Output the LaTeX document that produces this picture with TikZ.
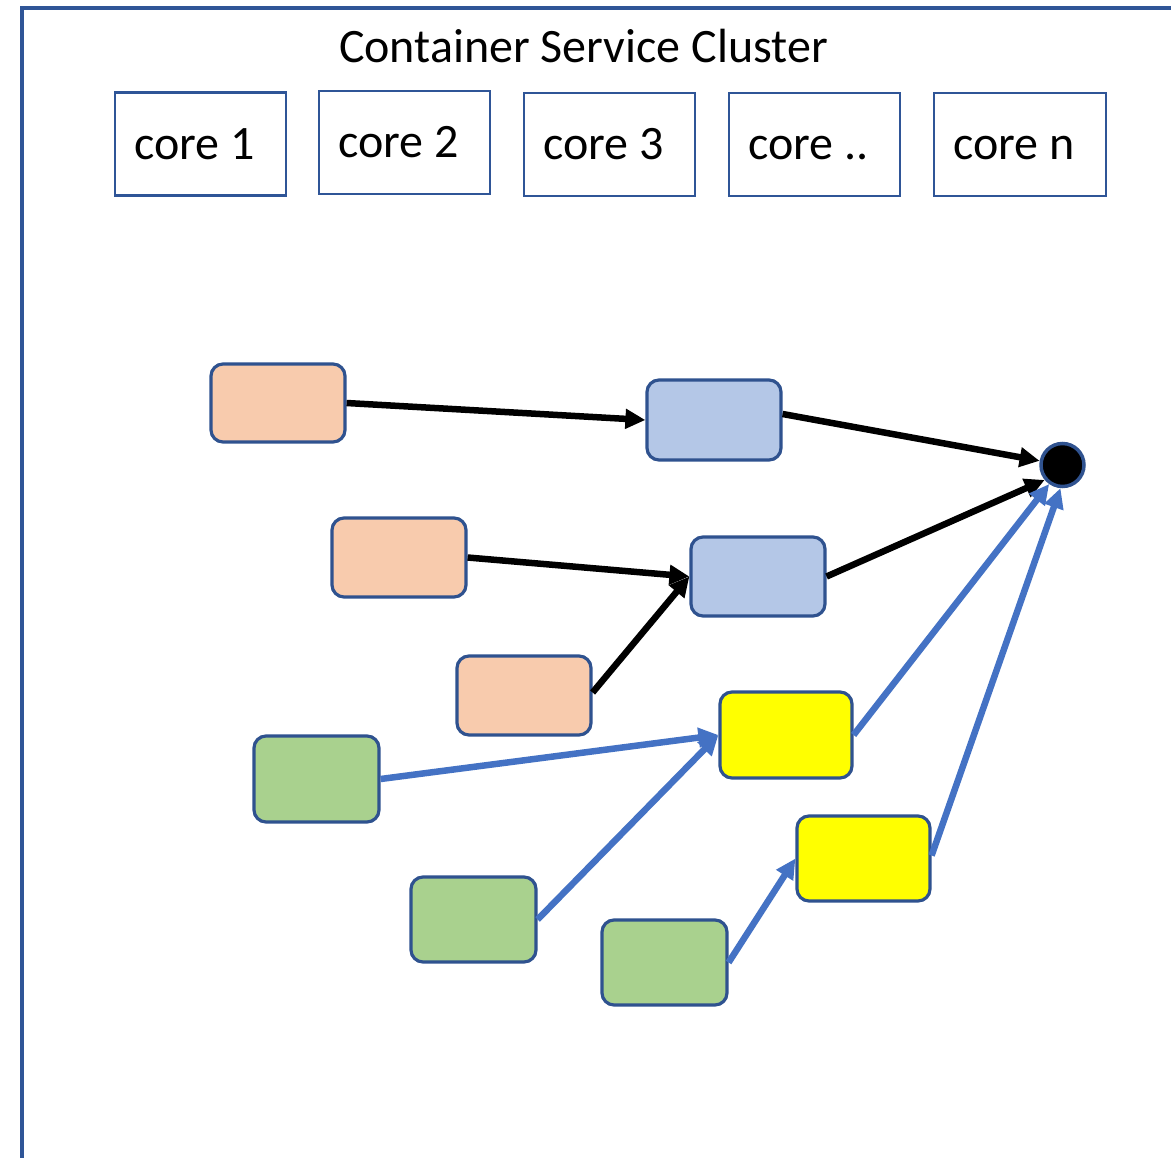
\documentclass[tikz,border=0pt]{standalone}
\usepackage{fontspec}
\setmainfont{Carlito}
\usetikzlibrary{arrows.meta}

\definecolor{edgeblue}{HTML}{2F5597}
\definecolor{boxline}{HTML}{2F528F}
\definecolor{peach}{HTML}{F8CBAD}
\definecolor{paleblue}{HTML}{B4C7E7}
\definecolor{leaf}{HTML}{A9D18E}
\definecolor{brightyellow}{HTML}{FFFF00}
\definecolor{flowblue}{HTML}{4472C4}

\tikzset{
  corebox/.style={draw=edgeblue, line width=2.8pt, rectangle, inner sep=0pt,
    text height=31pt, text depth=0pt, minimum width=171pt,
    minimum height=103pt, font=\fontsize{48}{56}\selectfont},
  taskbox/.style={draw=boxline, line width=3.2pt, rectangle, rounded corners=12pt, inner sep=0pt},
  prepbox/.style={taskbox, fill=peach, minimum width=134pt, minimum height=79pt},
  mergebox/.style={taskbox, fill=paleblue, minimum width=134pt, minimum height=79pt},
  loadbox/.style={taskbox, fill=leaf, minimum width=125pt, minimum height=85pt},
  joinbox/.style={taskbox, fill=brightyellow, minimum width=133pt, minimum height=85pt},
  sinkdot/.style={circle, fill=black, draw=boxline, line width=3.5pt, minimum size=43pt, inner sep=0pt},
  blackflow/.style={draw=black, line width=6.5pt, -{Triangle[length=20pt, width=19pt]}},
  blueflow/.style={draw=flowblue, line width=6.5pt, -{Triangle[length=20pt, width=19pt]}},
}

\begin{document}
\begin{tikzpicture}[x=1pt, y=-1pt]
  \useasboundingbox (0,0) rectangle (1171,1158);
  \fill[white] (0,0) rectangle (1171,1158);

  % cluster frame (open to the right and bottom)
  \coordinate (frameTR) at (1175,8);
  \coordinate (frameTL) at (22,8);
  \coordinate (frameBL) at (22,1162);
  \draw[edgeblue, line width=3.2pt] (frameTR) -- (frameTL) -- (frameBL);

  \node[anchor=base, font=\fontsize{48}{56}\selectfont] (title) at (583.5,63) {Container Service Cluster};

  % cores (labels sit a little left of centre)
  \node[corebox] (core1) at (200.5,144) {core 1\kern12pt};
  \node[corebox] (core2) at (404.5,142.5) {core 2\kern12pt};
  \node[corebox] (core3) at (609.5,144.5) {core 3\kern12pt};
  \node[corebox] (core4) at (814.5,144.5) {core ..\kern12pt};
  \node[corebox, minimum width=172pt] (coren) at (1020,144.5) {core n\kern12pt};

  % tasks
  \node[prepbox, minimum height=78pt] (o1) at (278,403) {};
  \node[mergebox, minimum height=80pt] (b1) at (714,420) {};
  \node[prepbox] (o2) at (399,557.5) {};
  \node[mergebox] (b2) at (758,576.5) {};
  \node[prepbox] (o3) at (524,695.5) {};
  \node[joinbox, minimum width=132pt, minimum height=86pt] (y1) at (786,735) {};
  \node[loadbox, minimum height=86pt] (g1) at (316.5,779) {};
  \node[loadbox] (g2) at (473.5,919.5) {};
  \node[joinbox] (y2) at (863.5,858.5) {};
  \node[loadbox] (g3) at (664.5,962.5) {};
  \node[sinkdot] (c) at (1062.5,465) {};

  % flows
  \draw[blackflow] (o1.east) -- (b1.west);
  \draw[blackflow] ([yshift=6pt]b1.east) -- (c);
  \draw[blackflow] (o2.east) -- (b2.west);
  \draw[blackflow] ([yshift=3pt]o3.east) -- (b2.west);
  \draw[blackflow] (b2.east) -- (c.220);

  \draw[blueflow] (g1.east) -- (y1.west);
  \draw[blueflow] (g2.east) -- (y1.west);
  \draw[blueflow] (g3.east) -- (y2.west);
  \draw[blueflow] (y1.east) -- (c.235);
  \draw[blueflow] ([yshift=3pt]y2.east) -- (c.265);
\end{tikzpicture}
\end{document}
